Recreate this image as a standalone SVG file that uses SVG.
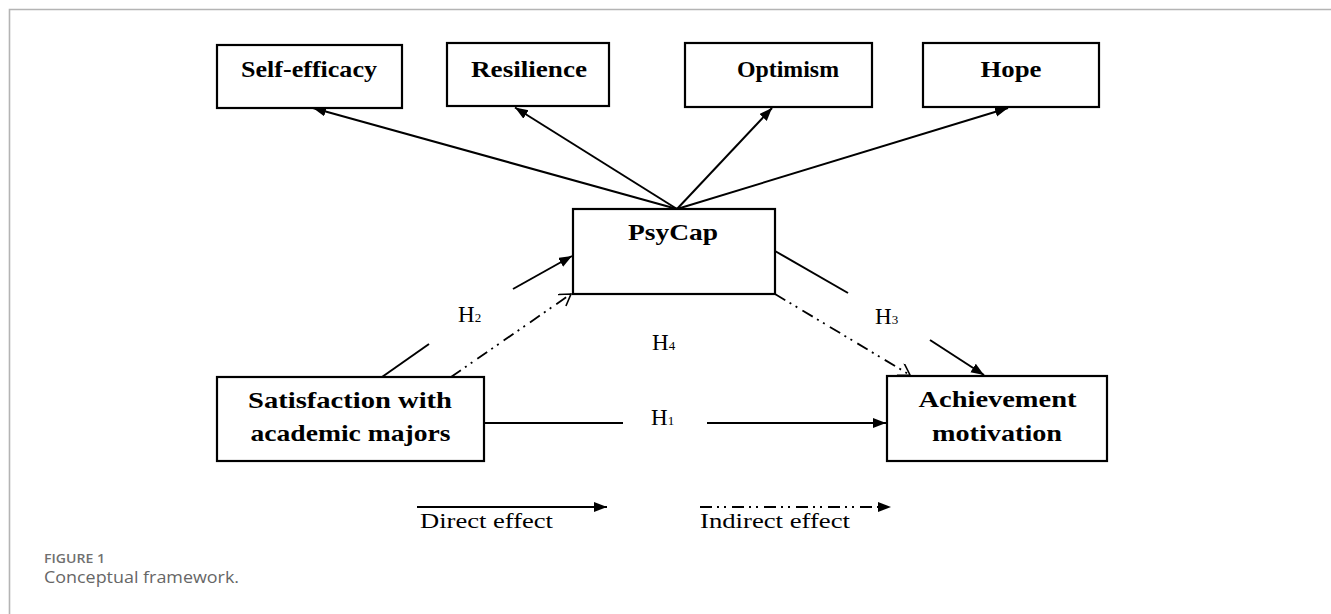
<svg xmlns="http://www.w3.org/2000/svg" width="1331" height="614" viewBox="0 0 1331 614">
<style>
.box{fill:#fff;stroke:#000;stroke-width:2.2}
.bt{font-family:"Liberation Serif",serif;font-weight:bold;font-size:24px;fill:#000;text-anchor:middle}
.ln{fill:none;stroke:#000;stroke-width:2}
.dl{fill:none;stroke:#000;stroke-width:1.8;stroke-dasharray:12 5 2 5 2 6}
.hl{font-family:"Liberation Serif",serif;font-size:23px;fill:#000}
.hs{font-size:13px}
.lg{font-family:"Liberation Serif",serif;font-size:20px;fill:#000}
.frame{stroke:#b4b4b4;stroke-width:1.6;fill:none}
</style>
<defs>
<marker id="arr" markerUnits="userSpaceOnUse" markerWidth="14" markerHeight="12" refX="13" refY="5" orient="auto">
<path d="M0,0 L13,5 L0,10 z" fill="#000"/>
</marker>
<marker id="open" markerUnits="userSpaceOnUse" markerWidth="16" markerHeight="16" refX="12" refY="7" orient="auto">
<path d="M1,0 L12,7 L1,14" fill="none" stroke="#000" stroke-width="1.6"/>
</marker>
</defs>
<rect width="1331" height="614" fill="#fff"/>
<path class="frame" d="M9.5,614 V9.5 H1331"/>

<g id="connectors">
<line class="ln" x1="677" y1="209" x2="313" y2="108" marker-end="url(#arr)"/>
<line class="ln" x1="677" y1="209" x2="515" y2="107.5" marker-end="url(#arr)"/>
<line class="ln" x1="677" y1="209" x2="772" y2="108" marker-end="url(#arr)"/>
<line class="ln" x1="677" y1="209" x2="1008" y2="108" marker-end="url(#arr)"/>
<line class="ln" x1="382" y1="377" x2="429" y2="344"/>
<line class="ln" x1="513" y1="289" x2="572" y2="256" marker-end="url(#arr)"/>
<line class="ln" x1="775" y1="251" x2="848" y2="293"/>
<line class="ln" x1="930" y1="340" x2="984" y2="375" marker-end="url(#arr)"/>
<line class="ln" x1="484" y1="423" x2="623" y2="423"/>
<line class="ln" x1="707" y1="423" x2="886" y2="423" marker-end="url(#arr)"/>
<line class="dl" x1="451" y1="377" x2="571" y2="294" marker-end="url(#open)"/>
<line class="dl" x1="775" y1="294" x2="910" y2="375" marker-end="url(#open)"/>
</g>

<g id="labels">
<text class="hl" x="458" y="322">H<tspan class="hs">2</tspan></text>
<text class="hl" x="875" y="324">H<tspan class="hs">3</tspan></text>
<text class="hl" x="652" y="350">H<tspan class="hs">4</tspan></text>
<text class="hl" x="651" y="425">H<tspan class="hs">1</tspan></text>
</g>

<g id="self-efficacy">
<rect class="box" x="217" y="45" width="185" height="63"/>
<text class="bt" x="309" y="77" textLength="136" lengthAdjust="spacingAndGlyphs">Self-efficacy</text>
</g>
<g id="resilience">
<rect class="box" x="447" y="43" width="162" height="63"/>
<text class="bt" x="529" y="77" textLength="116" lengthAdjust="spacingAndGlyphs">Resilience</text>
</g>
<g id="optimism">
<rect class="box" x="685" y="43" width="187" height="64"/>
<text class="bt" x="788" y="77" textLength="102" lengthAdjust="spacingAndGlyphs">Optimism</text>
</g>
<g id="hope">
<rect class="box" x="923" y="43" width="176" height="64"/>
<text class="bt" x="1011" y="77" textLength="61" lengthAdjust="spacingAndGlyphs">Hope</text>
</g>
<g id="psycap">
<rect class="box" x="573" y="209" width="202" height="85"/>
<text class="bt" x="673" y="240" textLength="90" lengthAdjust="spacingAndGlyphs">PsyCap</text>
</g>
<g id="satisfaction">
<rect class="box" x="217" y="377" width="267" height="84"/>
<text class="bt" x="350" y="408" textLength="204" lengthAdjust="spacingAndGlyphs">Satisfaction with</text>
<text class="bt" x="350.5" y="441" textLength="200" lengthAdjust="spacingAndGlyphs">academic majors</text>
</g>
<g id="achievement">
<rect class="box" x="887" y="376" width="220" height="85"/>
<text class="bt" x="997.5" y="407" textLength="158" lengthAdjust="spacingAndGlyphs">Achievement</text>
<text class="bt" x="997" y="441" textLength="130" lengthAdjust="spacingAndGlyphs">motivation</text>
</g>

<g id="legend">
<line class="ln" x1="417" y1="507" x2="607" y2="507" marker-end="url(#arr)"/>
<text class="lg" x="420" y="528" textLength="133" lengthAdjust="spacingAndGlyphs">Direct effect</text>
<line class="dl" x1="700" y1="507" x2="891" y2="507" marker-end="url(#arr)"/>
<text class="lg" x="700" y="528" textLength="150" lengthAdjust="spacingAndGlyphs">Indirect effect</text>
</g>

<g id="caption">
<text x="44" y="563" font-family="'Open Sans',sans-serif" font-weight="600" font-size="12.5" fill="#707070" textLength="61" lengthAdjust="spacingAndGlyphs">FIGURE 1</text>
<text x="44" y="583" font-family="'Open Sans',sans-serif" font-size="16" fill="#666" textLength="195" lengthAdjust="spacingAndGlyphs">Conceptual framework.</text>
</g>
</svg>
